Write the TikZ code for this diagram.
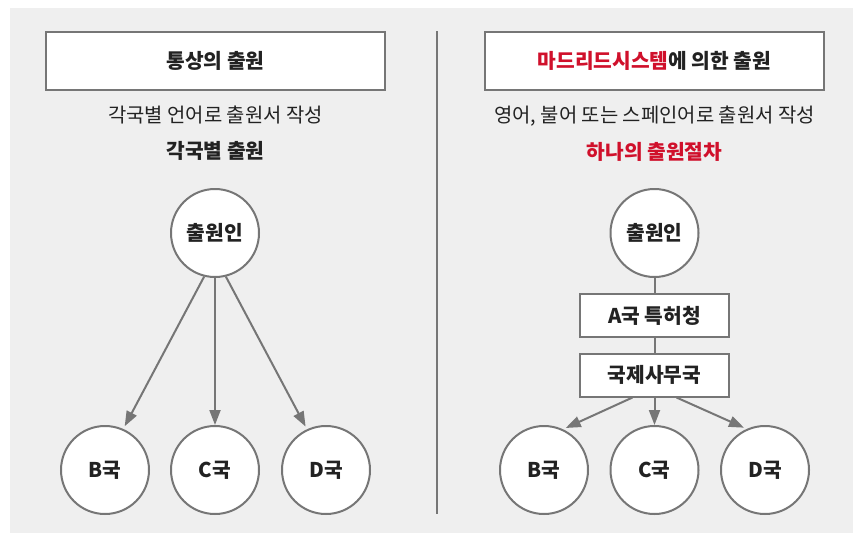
\documentclass[tikz,border=0pt]{standalone}
\usepackage{fontspec}
\setmainfont{Noto Sans CJK KR}
\usetikzlibrary{arrows.meta}
\definecolor{bgc}{HTML}{EFEFEF}
\definecolor{linec}{HTML}{767676}
\definecolor{redc}{HTML}{D0102B}
\definecolor{txt}{HTML}{222222}
\begin{document}
\begin{tikzpicture}[x=1pt,y=-1pt,
  every node/.style={text=txt, inner sep=0pt},
  titlebox/.style={draw=linec, line width=2pt, fill=white, minimum width=339pt, minimum height=58pt, font=\bfseries\fontsize{20.3}{22}\selectfont},
  circ/.style={circle, draw=linec, line width=2pt, fill=white, minimum size=88pt, font=\bfseries\fontsize{20.3}{22}\selectfont},
  rbox/.style={draw=linec, line width=2pt, fill=white, minimum width=149pt, minimum height=43pt, font=\bfseries\fontsize{20.3}{22}\selectfont},
  subtxt/.style={font=\fontsize{19.9}{22}\selectfont},
  boldtxt/.style={font=\bfseries\fontsize{20.3}{22}\selectfont},
  arr/.style={draw=linec, line width=2pt, -{Triangle[length=15pt,width=11pt]}},
  conn/.style={draw=linec, line width=2pt}
]
\useasboundingbox (0,0) rectangle (853,533);
\fill[bgc] (10,8) rectangle (853,533);

% divider
\coordinate (dtop) at (437,31);
\coordinate (dbot) at (437,514);
\draw[conn] (dtop) -- (dbot);

% left panel
\node[titlebox] (lt) at (215.5,61) {통상의 출원};
\node[subtxt] (ls) at (215.5,115) {각국별 언어로 출원서 작성};
\node[boldtxt] (lb) at (215.5,151) {각국별 출원};
\node[circ] (la) at (215,233) {출원인};
\node[circ] (lB) at (105,470) {B국};
\node[circ] (lC) at (215,470) {C국};
\node[circ] (lD) at (326,470) {D국};
\draw[arr, shorten >=3pt] (la.-104) -- (lB.66);
\draw[arr] (la.south) -- (lC.north);
\draw[arr, shorten >=3pt] (la.-76) -- (lD.115);

% right panel
\node[titlebox] (rt) at (654.5,61) {{\color{redc}마드리드시스템}에 의한 출원};
\node[subtxt] (rs) at (654.5,116) {영어, 불어 또는 스페인어로 출원서 작성};
\node[boldtxt, text=redc] (rb) at (654.5,152) {하나의 출원절차};
\node[circ] (ra) at (654.5,233) {출원인};
\node[rbox] (rA) at (654.5,315.5) {A국 특허청};
\node[rbox] (rI) at (654.5,375) {국제사무국};
\node[circ] (rB) at (544,470) {B국};
\node[circ] (rC) at (654.5,470) {C국};
\node[circ] (rD) at (765,470) {D국};
\draw[conn] (ra.south) -- (rA.north);
\draw[conn] (rA.south) -- (rI.north);
\draw[arr, shorten >=3pt] ([xshift=-22pt]rI.south) -- (rB.65);
\draw[arr] (rI.south) -- (rC.north);
\draw[arr, shorten >=3pt] ([xshift=22pt]rI.south) -- (rD.114);
\end{tikzpicture}
\end{document}
